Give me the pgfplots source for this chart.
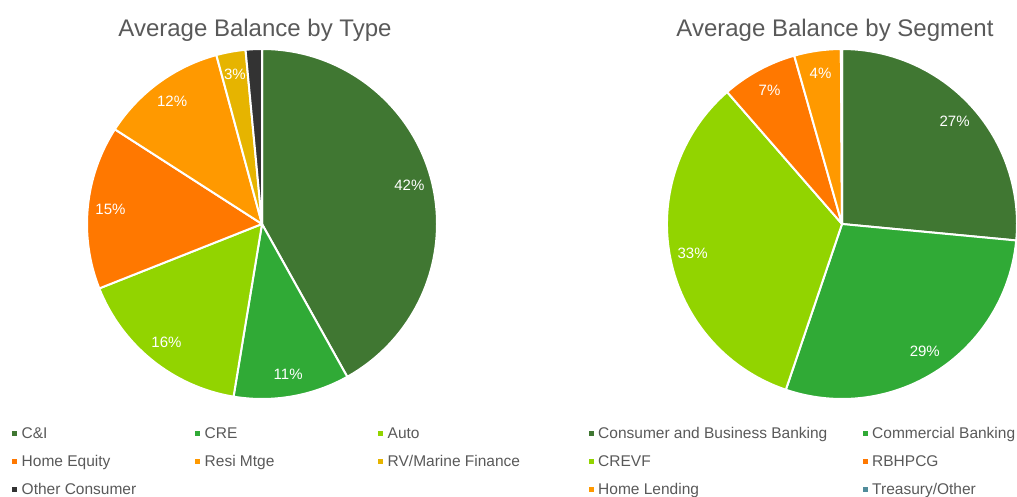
\documentclass[border=0pt]{standalone}
\usepackage{fontspec}
\setmainfont{Liberation Sans}
\usepackage{pgfplots}
\usepackage{pgfplotstable}
\pgfplotsset{compat=1.18}

\definecolor{txtgray}{RGB}{89,89,89}
\definecolor{cDkGreen}{RGB}{64,119,50}
\definecolor{cGreen}{RGB}{48,170,54}
\definecolor{cLime}{RGB}{146,212,0}
\definecolor{cOrange}{RGB}{255,120,0}
\definecolor{cLtOrange}{RGB}{255,153,0}
\definecolor{cGold}{RGB}{230,180,0}
\definecolor{cBlack}{RGB}{51,51,51}
\definecolor{cTeal}{RGB}{80,140,155}

% share of average balance (%), clockwise from 12 o'clock
\pgfplotstableread[col sep=comma]{
name,value,color
C\&I,41.9,cDkGreen
CRE,10.7,cGreen
Auto,16.4,cLime
Home Equity,15.1,cOrange
Resi Mtge,11.7,cLtOrange
RV/Marine Finance,2.7,cGold
Other Consumer,1.5,cBlack
}\typetable

\pgfplotstableread[col sep=comma]{
name,value,color
Consumer and Business Banking,26.5,cDkGreen
Commercial Banking,28.7,cGreen
CREVF,33.4,cLime
RBHPCG,7.0,cOrange
Home Lending,4.3,cLtOrange
Treasury/Other,0.1,cTeal
}\segtable

% #1 table, #2/#3 centre (px), #4 radius, #5 legend x0, #6 legend column step, #7 legend columns
\newcommand\drawpie[7]{%
  \pgfplotstablegetrowsof{#1}%
  \pgfmathtruncatemacro\nrows{\pgfplotsretval-1}%
  \gdef\acc{90}%
  \foreach \i in {0,...,\nrows}{%
    \pgfplotstablegetelem{\i}{value}\of#1\let\val\pgfplotsretval
    \pgfplotstablegetelem{\i}{color}\of#1\let\col\pgfplotsretval
    \pgfplotstablegetelem{\i}{name}\of#1\let\nm\pgfplotsretval
    \pgfmathsetmacro\aend{\acc-3.6*\val}%
    \pgfmathsetmacro\amid{\acc-1.8*\val}%
    \pgfmathsetmacro\lr{0.87*#4}%
    \pgfmathtruncatemacro\lbl{round(\val)}%
    \edef\cmd{\noexpand\fill[\col, draw=white, line width=2pt, line join=round]
      (axis cs:#2,#3) -- ++(\acc:#4pt) arc[start angle=\acc, end angle=\aend, radius=#4pt] -- cycle;}%
    \cmd
    \pgfmathparse{\val>2.5 ? 1 : 0}%
    \ifnum\pgfmathresult=1
      \edef\cmd{\noexpand\node[text=white, font=\noexpand\fontsize{15}{17}\noexpand\selectfont]
        at ([shift={(\amid:\lr pt)}]axis cs:#2,#3) {\lbl\noexpand\%};}%
      \cmd
    \fi
    % legend entry
    \pgfmathtruncatemacro\lc{mod(\i,#7)}%
    \pgfmathtruncatemacro\lrw{div(\i,#7)}%
    \pgfmathsetmacro\lx{#5+#6*\lc}%
    \pgfmathsetmacro\ly{496-433-28*\lrw}%
    \edef\cmd{\noexpand\fill[\col] ([shift={(-2.5pt,-2.5pt)}]axis cs:\lx,\ly) rectangle ++(5pt,5pt);
      \noexpand\node[anchor=base west, inner sep=0pt, text=txtgray, font=\noexpand\fontsize{15.5}{18}\noexpand\selectfont]
        at ([shift={(7pt,-5.5pt)}]axis cs:\lx,\ly) {\expandafter\unexpanded\expandafter{\nm}};}%
    \cmd
    \xdef\acc{\aend}%
  }%
}

\begin{document}
\begin{tikzpicture}
\begin{axis}[
    x=1pt, y=1pt,
    xmin=0, xmax=1017, ymin=0, ymax=496,
    hide axis, clip=false,
  ]
  \coordinate (bl) at (axis cs:0,0);
  \coordinate (tr) at (axis cs:1017,496);
  \node[text=txtgray, font=\fontsize{24}{27}\selectfont] at (axis cs:255,466) {Average Balance by Type};
  \node[text=txtgray, font=\fontsize{24}{27}\selectfont] at (axis cs:835,466) {Average Balance by Segment};
  \drawpie{\typetable}{262}{272}{175}{14.5}{183}{3}
  \drawpie{\segtable}{842}{272}{175}{591}{274}{2}
\end{axis}
\pgfresetboundingbox
\path[use as bounding box] (bl) rectangle (tr);
\end{tikzpicture}
\end{document}
